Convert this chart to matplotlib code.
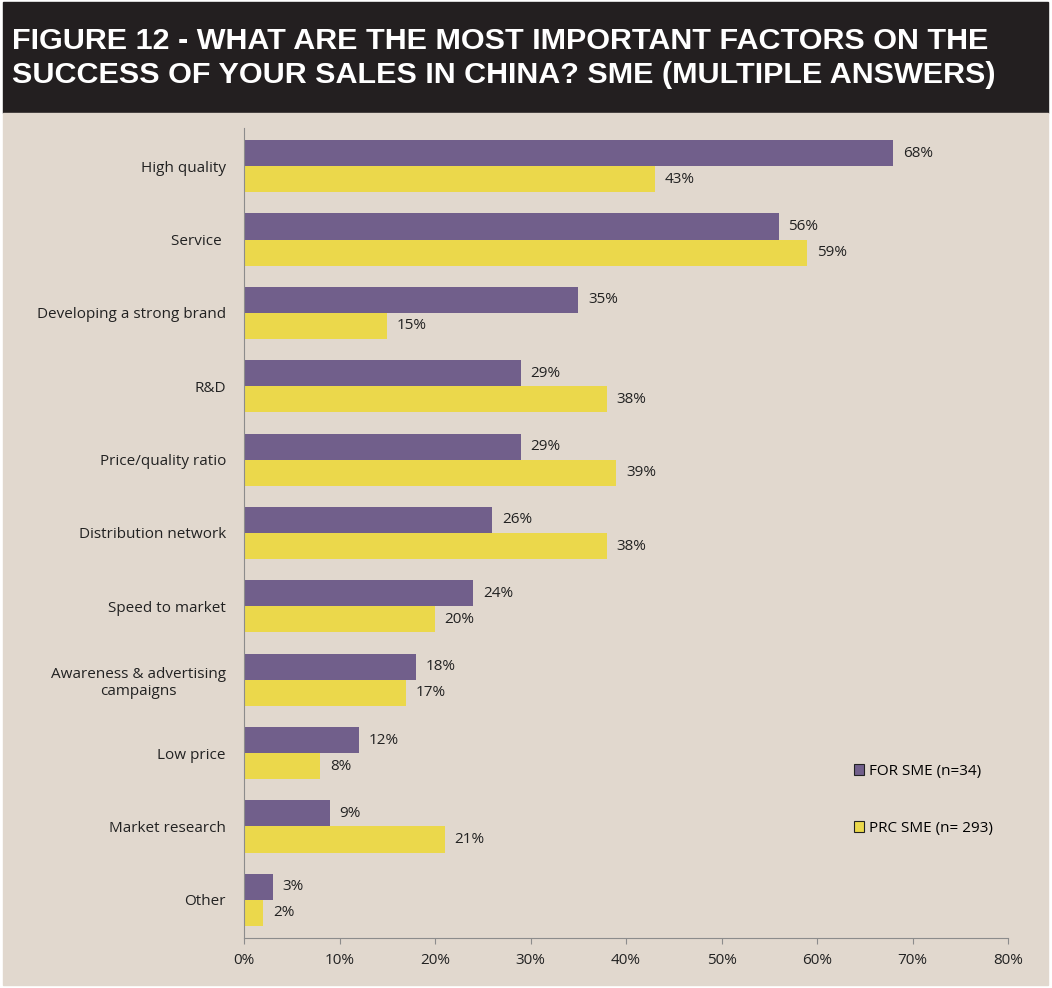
import matplotlib
matplotlib.use("Agg")
import matplotlib.pyplot as plt
from matplotlib.patches import Rectangle
import numpy as np

# survey answers, percent of respondents
categories = ["High quality", "Service ", "Developing a strong brand", "R&D",
              "Price/quality ratio", "Distribution network", "Speed to market",
              "Awareness & advertising\ncampaigns", "Low price", "Market research",
              "Other"]
for_sme = [68, 56, 35, 29, 29, 26, 24, 18, 12, 9, 3]
prc_sme = [43, 59, 15, 38, 39, 38, 20, 17, 8, 21, 2]
series_names = ["FOR SME (n=34)", "PRC SME (n= 293)"]
xticks = [0, 10, 20, 30, 40, 50, 60, 70, 80]
title_lines = ["FIGURE 12 - WHAT ARE THE MOST IMPORTANT FACTORS ON THE",
               "SUCCESS OF YOUR SALES IN CHINA? SME (MULTIPLE ANSWERS)"]

purple = "#715f8b"
yellow = "#ebd84b"
beige = "#e1d8ce"
dark = "#231f20"
txt = "#222222"
plt.rcParams['font.family'] = ["Open Sans", "DejaVu Sans"]

fig = plt.figure(figsize=(10.52, 9.88), dpi=100)
fig.patch.set_facecolor("white")

# header band and beige panel
fig.add_artist(Rectangle((3/1052, 1 - 113/988), 1045/1052, 111/988,
                         transform=fig.transFigure, color=dark, zorder=0))
fig.add_artist(Rectangle((3/1052, 3/988), 1045/1052, (985 - 113)/988,
                         transform=fig.transFigure, color=beige, zorder=0))

# title, sized so the first line spans the header like the original
title_font = ["Liberation Sans", "DejaVu Sans"]
t1 = fig.text(12/1052, 1 - 49/988, title_lines[0], color="white", fontsize=20,
              fontweight="bold", family=title_font, va="baseline")
t2 = fig.text(12/1052, 1 - 83/988, title_lines[1], color="white", fontsize=20,
              fontweight="bold", family=title_font, va="baseline")
r = fig.canvas.get_renderer()
w = t1.get_window_extent(r).width
fs = 20 * 975 / w
t1.set_fontsize(fs)
t2.set_fontsize(fs)

ax = fig.add_axes([244/1052, 1 - 938/988, (1008 - 244)/1052, (938 - 128)/988])
ax.set_facecolor("none")

y = np.arange(len(categories))
h = 0.355
b1 = ax.barh(y - h/2, for_sme, height=h, color=purple, label=series_names[0])
b2 = ax.barh(y + h/2, prc_sme, height=h, color=yellow, label=series_names[1])

for bars, vals in ((b1, for_sme), (b2, prc_sme)):
    for bar, v in zip(bars, vals):
        ax.annotate(f"{v}%", (v, bar.get_y() + bar.get_height()/2),
                    xytext=(7, 0), textcoords="offset points",
                    va="center", ha="left", fontsize=11, color=txt)

ax.set_xlim(0, 80)
ax.set_ylim(len(categories) - 0.48, -0.52)
ax.set_yticks(y)
ax.set_yticklabels(categories, fontsize=11, color=txt, ha="right",
                   multialignment="center")
ax.tick_params(axis="y", length=0, pad=13)
ax.set_xticks(xticks)
ax.set_xticklabels([f"{t}%" for t in xticks], fontsize=11, color=txt)
ax.tick_params(axis="x", length=4, color="#8c8c8c", pad=7)

for s in ("top", "right"):
    ax.spines[s].set_visible(False)
for s in ("left", "bottom"):
    ax.spines[s].set_color("#8c8c8c")

leg = ax.legend(loc="upper left", bbox_to_anchor=(840/1052, 1 - 750/988),
                bbox_transform=fig.transFigure, frameon=False, fontsize=11,
                handlelength=0.7, handleheight=0.7, handletextpad=0.3,
                labelspacing=2.75)
for p in leg.get_patches():
    p.set_edgecolor(txt)
    p.set_linewidth(0.8)

fig.savefig("out.png", dpi=100, facecolor=fig.get_facecolor())
